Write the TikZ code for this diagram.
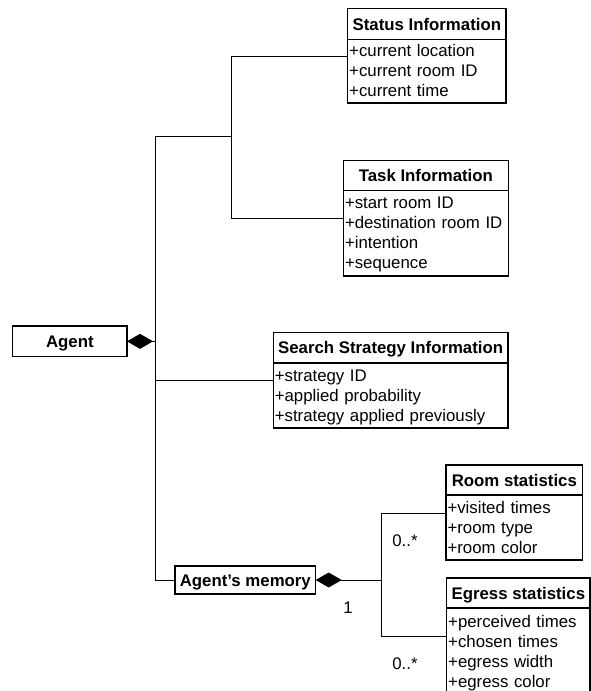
\documentclass[tikz,border=0pt]{standalone}
\usepackage{fontspec}
\setmainfont{Liberation Sans}
\usetikzlibrary{arrows.meta,calc}
\newcommand\rowst{\rule[-4.5pt]{0pt}{20pt}}
\tikzset{
  every node/.style={outer sep=0pt},
  titlebox/.style={draw, line width=1.2pt, anchor=north west, inner sep=0pt,
    font=\fontsize{16.8}{20}\selectfont\bfseries, text height=12pt, text depth=0pt},
  bodybox/.style={draw, line width=1.2pt, anchor=north west, inner xsep=1.5pt, inner ysep=0pt,
    align=left, font=\fontsize{16.8}{20}\selectfont},
  conn/.style={line width=0.9pt},
  mult/.style={font=\fontsize{16.8}{20}\selectfont, inner sep=0pt},
  comp/.style={conn, {Diamond[length=26pt,width=15pt]}-},
}
\begin{document}
\begin{tikzpicture}[x=1pt,y=-1pt]
\useasboundingbox (0,0) rectangle (591,691);
\clip (0,0) rectangle (591,691);
% Status Information
\node[titlebox, minimum width=158.3pt, minimum height=30.6pt] (status) at (347.7,8.7) {Status Information};
\node[bodybox, text width=155.3pt, minimum height=63.7pt] (statusb) at (status.south west)
  {\rowst+current location\\\rowst+current room ID\\\rowst+current time};
% Task Information
\node[titlebox, minimum width=164.8pt, minimum height=30pt] (task) at (343.5,160.7) {Task Information};
\node[bodybox, text width=161.8pt, minimum height=85.3pt] (taskb) at (task.south west)
  {\rowst+start room ID\\\rowst+destination room ID\\\rowst+intention\\\rowst+sequence};
% Search Strategy Information
\node[titlebox, minimum width=234.7pt, minimum height=30.3pt] (search) at (273.3,332.7) {Search Strategy Information};
\node[bodybox, text width=231.7pt, minimum height=65pt] (searchb) at (search.south west)
  {\rowst+strategy ID\\\rowst+applied probability\\\rowst+strategy applied previously};
% Room statistics
\node[titlebox, minimum width=136.7pt, minimum height=30pt] (room) at (446,465) {Room statistics};
\node[bodybox, text width=133.7pt, minimum height=65pt] (roomb) at (room.south west)
  {\rowst+visited times\\\rowst+room type\\\rowst+room color};
% Egress statistics
\node[titlebox, minimum width=143.3pt, minimum height=30pt] (egress) at (446.7,578) {Egress statistics};
\node[bodybox, text width=140.3pt, minimum height=87pt] (egressb) at (egress.south west)
  {\rowst+perceived times\\\rowst+chosen times\\\rowst+egress width\\\rowst+egress color};
% Agent and memory
\node[titlebox, minimum width=114.3pt, minimum height=30.7pt] (agent) at (12.7,326) {Agent};
\node[titlebox, minimum width=140.7pt, minimum height=28pt] (memory) at (175,566) {Agent\char"27 s memory};
% junction points
\coordinate (tr) at (155.7,136);
\coordinate (br1) at (231.7,136);
\coordinate (br2) at (381.7,580);
\coordinate (sc) at ([yshift=-16.7pt]statusb.north west);
\coordinate (tc) at ([yshift=-27.3pt]taskb.north west);
\coordinate (qc) at ([yshift=-17pt]searchb.north west);
\coordinate (rc) at ([yshift=-18pt]roomb.north west);
\coordinate (ec) at ([yshift=-28pt]egressb.north west);
% connectors
\draw[conn] (sc) -| (br1) |- (tc);
\draw[conn] (br1) -- (tr) |- (memory.west);
\draw[conn] (qc) -- (tr |- qc);
\draw[comp] (agent.east) -- (tr |- agent.east);
\draw[comp] (memory.east) -- (br2);
\draw[conn] (rc) -| (br2) |- (ec);
% multiplicities
\node[mult] (m1) at (405,541) {0..*};
\node[mult] (m2) at (348,608) {1};
\node[mult] (m3) at (405,664) {0..*};
\end{tikzpicture}
\end{document}
